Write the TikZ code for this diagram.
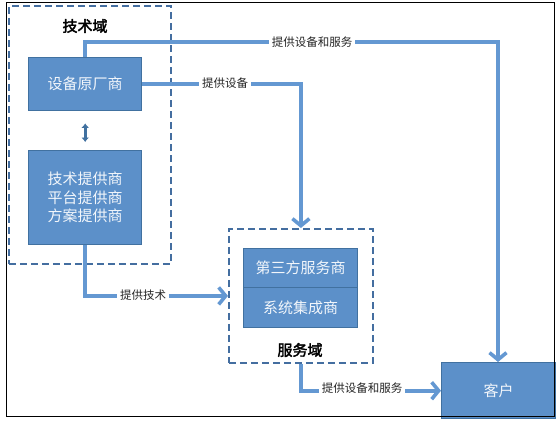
\documentclass[tikz,border=0pt]{standalone}
\usepackage{fontspec}
\usetikzlibrary{arrows.meta,calc}
\newfontfamily\cjk{Noto Sans CJK SC}
\newfontfamily\cjkb[FakeBold=2.5]{Noto Sans CJK SC}
\definecolor{boxfill}{RGB}{92,144,201}
\definecolor{boxline}{RGB}{65,113,160}
\definecolor{flowc}{RGB}{100,152,210}
\definecolor{dashc}{RGB}{68,110,160}
\tikzset{
  ent/.style={draw=boxline, line width=1.4pt, fill=boxfill, text=white!92!boxfill, font=\cjk\fontsize{15}{18.5}\selectfont, align=center, inner sep=0pt, anchor=north west},
  dombox/.style={draw=dashc, line width=1.8pt, dash pattern=on 7pt off 4pt, inner sep=0pt, anchor=north west},
  flow/.style={draw=flowc, line width=3.8pt, -{Straight Barb[length=7pt,width=17pt,line width=3.6pt]}},
  lbl/.style={fill=white, font=\cjk\fontsize{11.5}{13}\selectfont, text=black!85, inner xsep=3pt, inner ysep=3pt},
  ttl/.style={font=\cjkb\fontsize{15}{18}\selectfont, text=black}
}
\begin{document}
\begin{tikzpicture}[x=1pt,y=-1pt]
\useasboundingbox (0,0) rectangle (560,423);
% domains
\node[dombox, minimum width=162, minimum height=258] (techdom) at (8,5) {};
\node[dombox, minimum width=144, minimum height=134] (svcdom) at (228,228) {};
\node[ttl] (techt) at (85,26) {技术域};
\node[ttl] (svct) at (300,350) {服务域};
% entities
\node[ent, minimum width=113, minimum height=53] (oem) at (28,57) {设备原厂商};
\node[ent, minimum width=113, minimum height=94] (tech) at (28,150) {技术提供商\\平台提供商\\方案提供商};
\node[ent, minimum width=114, minimum height=39] (third) at (243,248) {第三方服务商};
\node[ent, minimum width=114, minimum height=40] (integ) at (243,287) {系统集成商};
\node[ent, minimum width=114, minimum height=56] (client) at (441,362) {客户};
% connectors
\coordinate (tr) at (498,42);
\draw[flow] (oem.north) |- (tr) -- (client.north -| tr);
\draw[flow] (oem.east) -| (svcdom.north);
\draw[flow] (tech.south) |- (svcdom.west);
\draw[flow] (svcdom.south) |- (client.west);
\draw[boxline, line width=3.2pt, {Latex[length=4.5pt,width=8pt]}-{Latex[length=4.5pt,width=8pt]}] ($(oem.south)+(0,12)$) -- ($(tech.north)+(0,-8)$);
% labels
\node[lbl] (l1) at (312,42) {提供设备和服务};
\node[lbl] (l2) at (225,83) {提供设备};
\node[lbl] (l3) at (143,295) {提供技术};
\node[lbl] (l4) at (362,388) {提供设备和服务};
% frame
\draw[black, line width=1pt] (6.5,2.5) rectangle (554.5,416.5);
\end{tikzpicture}
\end{document}
